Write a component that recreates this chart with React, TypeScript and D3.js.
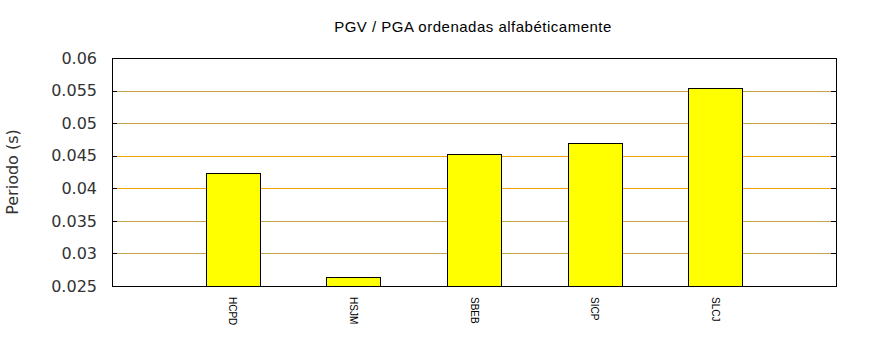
import React from "react";
import * as d3 from "d3";

const categories = ["HCPD", "HSJM", "SBEB", "SICP", "SLCJ"];
const values = [0.04235, 0.02638, 0.04526, 0.04695, 0.0554];
const yTicks = [0.025, 0.03, 0.035, 0.04, 0.045, 0.05, 0.055, 0.06];
const yTickLabels = ["0.025", "0.03", "0.035", "0.04", "0.045", "0.05", "0.055", "0.06"];

const W = 870, H = 350;
const L = 112, R = 836, T = 58, B = 286;

export default function App() {
  const x = d3.scaleLinear().domain([0, categories.length + 1]).range([L, R]);
  const y = d3.scaleLinear().domain([0.025, 0.06]).range([B, T]);
  const bw = (x(1) - x(0)) * 0.45;
  const gridColor = (i: number) => (i === 3 || i === 4 ? "#f0a400" : "#c8a448");
  return (
    <svg width={W} height={H} style={{ position: "absolute", left: 0, top: 0, background: "#fff" }}>
      <text x={473} y={32} textAnchor="middle" fontFamily="Liberation Sans, Arial, sans-serif" fontSize={15} letterSpacing={0.5} fill="#000">
        PGV / PGA ordenadas alfabéticamente
      </text>
      {yTicks.map((t, i) =>
        i > 0 && i < yTicks.length - 1 ? (
          <line key={"g" + i} x1={L} x2={R} y1={Math.round(y(t)) + 0.5} y2={Math.round(y(t)) + 0.5} stroke={gridColor(i)} strokeWidth={1} />
        ) : null
      )}
      {yTicks.map((t, i) => (
        <g key={"t" + i}>
          <line x1={L} x2={L + 5} y1={Math.round(y(t)) + 0.5} y2={Math.round(y(t)) + 0.5} stroke="#000" />
          <line x1={R - 5} x2={R} y1={Math.round(y(t)) + 0.5} y2={Math.round(y(t)) + 0.5} stroke="#000" />
          <text x={97} y={y(t)} dy="0.36em" textAnchor="end" fontFamily="DejaVu Sans, sans-serif" fontSize={16} fill="#333">
            {yTickLabels[i]}
          </text>
        </g>
      ))}
      {values.map((v, i) => (
        <rect key={"b" + i} x={Math.round(x(i + 1) - bw / 2) + 0.5} y={Math.round(y(v)) + 0.5} width={Math.round(bw)} height={Math.round(B - y(v))} fill="#ffff00" stroke="#000" strokeWidth={1} />
      ))}
      <rect x={L + 0.5} y={T + 0.5} width={R - L} height={B - T} fill="none" stroke="#000" strokeWidth={1} />
      {categories.map((c, i) => (
        <text key={"c" + i} transform={`translate(${x(i + 1)},297) rotate(90)`} dy="0.35em" textAnchor="start" fontFamily="Liberation Sans, Arial, sans-serif" fontSize={10} fill="#000">
          {c}
        </text>
      ))}
      <text transform={`translate(18,172) rotate(-90)`} textAnchor="middle" fontFamily="DejaVu Sans, sans-serif" fontSize={16} fill="#333">
        Periodo (s)
      </text>
    </svg>
  );
}
